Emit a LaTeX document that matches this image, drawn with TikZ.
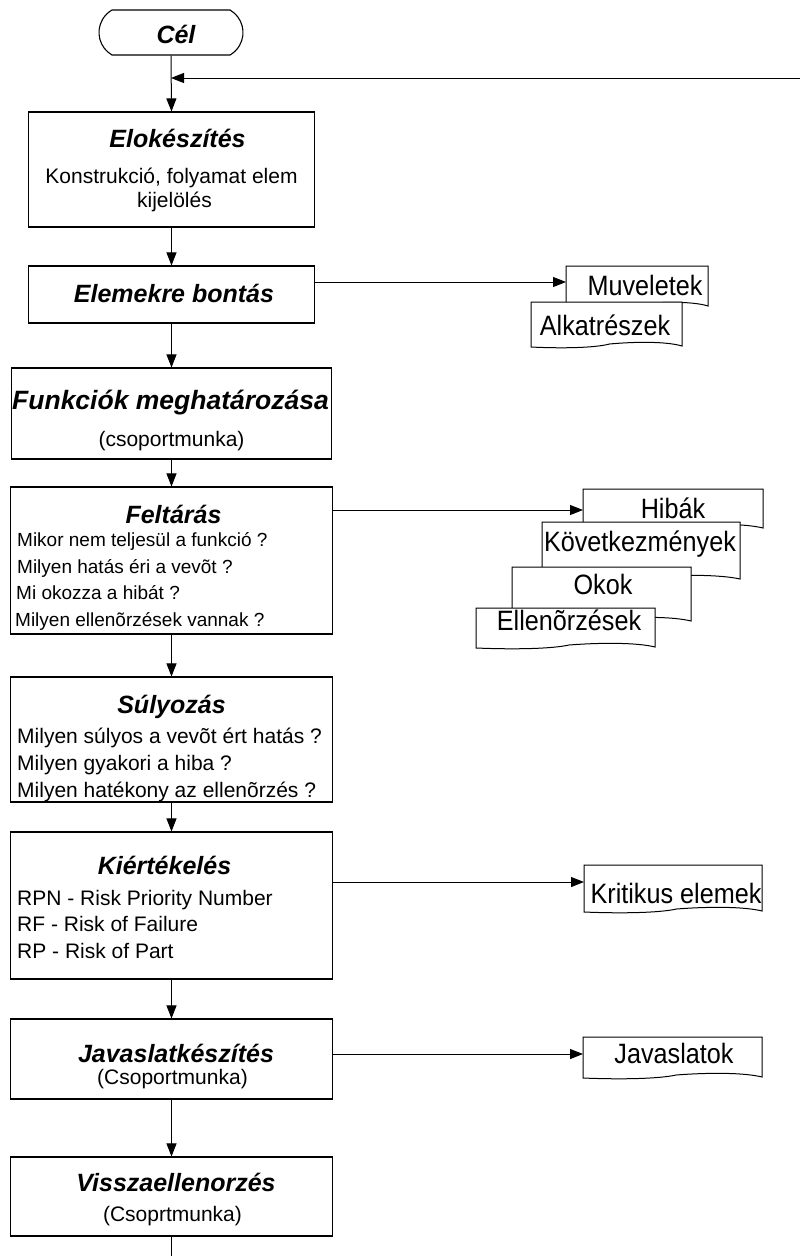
\documentclass[tikz,border=0pt]{standalone}
\usepackage{fontspec}
\setmainfont{Liberation Sans}
\newfontfamily\docfont[FakeStretch=0.9]{Liberation Sans}
\usetikzlibrary{arrows.meta,shapes.misc}
\newcommand\docshape[4]{%
  \filldraw[docline] (#1,#2) -- (#3,#2) -- (#3,{#4-1})
    .. controls ({#3-0.1*(#3-#1)},{#4-5.5}) and ({#3-0.3*(#3-#1)},{#4-5.5}) .. ({#1+0.52*(#3-#1)},{#4-3})
    .. controls ({#1+0.42*(#3-#1)},{#4+1}) and ({#1+0.2*(#3-#1)},{#4+1.5}) .. (#1,#4) -- cycle;}
\begin{document}
\begin{tikzpicture}[x=1pt,y=-1pt,
  box/.style={draw,line width=1.1pt,inner sep=0pt,fill=white},
  docline/.style={draw=black,fill=white,line width=1pt},
  arr/.style={line width=1pt,-{Triangle[length=13pt,width=10pt]}},
  ln/.style={line width=1pt},
  ttl/.style={font=\fontsize{25}{30}\selectfont\bfseries\itshape,inner sep=0pt,text height=17.9pt,text depth=0pt},
  bigttl/.style={font=\fontsize{26.5}{31}\selectfont\bfseries\itshape,inner sep=0pt,text height=19pt,text depth=0pt},
  bd/.style={font=\fontsize{21}{25}\selectfont,inner sep=0pt,text height=15pt,text depth=0pt},
  sm/.style={font=\fontsize{19}{23}\selectfont,inner sep=0pt,text height=13.6pt,text depth=0pt},
  dt/.style={font=\docfont\fontsize{28}{33}\selectfont,inner sep=0pt,text height=20pt,text depth=0pt}]
\useasboundingbox[fill=white] (0,0) rectangle (807,1256);

% main boxes
\node[draw,line width=1.1pt,shape=rounded rectangle,rounded rectangle arc length=120,
      minimum width=144pt,minimum height=45pt,inner sep=0pt] (cel) at (171,32.5) {};
\node[box,minimum width=286pt,minimum height=115pt] (prep) at (171.5,169.5) {};
\node[box,minimum width=286pt,minimum height=57pt] (elem) at (171.5,294.5) {};
\node[box,minimum width=320pt,minimum height=91pt] (func) at (171.5,413.5) {};
\node[box,minimum width=322pt,minimum height=147pt] (felt) at (171.5,560.5) {};
\node[box,minimum width=322pt,minimum height=125pt] (suly) at (171.5,739.5) {};
\node[box,minimum width=322pt,minimum height=147pt] (kiert) at (171.5,905.5) {};
\node[box,minimum width=322pt,minimum height=80pt] (javas) at (171.5,1059) {};
\node[box,minimum width=322pt,minimum height=79pt] (vissza) at (171.5,1196.5) {};

% texts in main boxes
\node[ttl] (celT) at (176,35) {Cél};
\node[ttl] (prepT) at (177.5,138.5) {Elokészítés};
\node[bd] (prepL1) at (171.5,175.5) {Konstrukció, folyamat elem};
\node[bd] (prepL2) at (174.5,200) {kijelölés};
\node[ttl] (elemT) at (174,293.5) {Elemekre bontás};
\node[bigttl] (funcT) at (170.5,399.5) {Funkciók meghatározása};
\node[bd] (funcL1) at (171.5,439) {(csoportmunka)};
\node[ttl] (feltT) at (173.5,514.5) {Feltárás};
\node[sm,anchor=west] (feltL1) at (17,540) {Mikor nem teljesül a funkció ?};
\node[sm,anchor=west] (feltL2) at (17,567) {Milyen hatás éri a vevõt ?};
\node[sm,anchor=west] (feltL3) at (16,593) {Mi okozza a hibát ?};
\node[sm,anchor=west] (feltL4) at (15,620) {Milyen ellenõrzések vannak ?};
\node[ttl] (sulyT) at (171.5,704.5) {Súlyozás};
\node[bd,anchor=west] (sulyL1) at (17,735.5) {Milyen súlyos a vevõt ért hatás ?};
\node[bd,anchor=west] (sulyL2) at (17,762.5) {Milyen gyakori a hiba ?};
\node[bd,anchor=west] (sulyL3) at (17,789.5) {Milyen hatékony az ellenõrzés ?};
\node[ttl] (kiertT) at (164.5,865.5) {Kiértékelés};
\node[bd,anchor=west] (kiertL1) at (17,897.5) {RPN - Risk Priority Number};
\node[bd,anchor=west] (kiertL2) at (17,923.5) {RF - Risk of Failure};
\node[bd,anchor=west] (kiertL3) at (17,950.5) {RP - Risk of Part};
\node[ttl] (javasT) at (176,1053.5) {Javaslatkészítés};
\node[bd] (javasL1) at (172.5,1077) {(Csoportmunka)};
\node[ttl] (visszaT) at (176,1183) {Visszaellenorzés};
\node[bd] (visszaL1) at (172.5,1214) {(Csoprtmunka)};

% vertical flow
\coordinate (fbR) at (800,78);
\coordinate (bottomEnd) at (171.5,1256);
\draw[arr] (cel.south) -- (prep.north);
\draw[arr] (fbR) -- (cel.south |- fbR);
\draw[arr] (prep.south) -- (elem.north);
\draw[arr] (elem.south) -- (func.north);
\draw[arr] (func.south) -- (felt.north);
\draw[arr] (felt.south) -- (suly.north);
\draw[arr] (suly.south) -- (kiert.north);
\draw[arr] (kiert.south) -- (javas.north);
\draw[arr] (javas.south) -- (vissza.north);
\draw[ln] (vissza.south) -- (bottomEnd);

% documents
\docshape{566}{266}{708}{307}
\node[dt] (muv) at (645,285) {Muveletek};
\docshape{531}{302}{682}{347}
\node[dt] (alk) at (605,325) {Alkatrészek};

\docshape{583}{489}{763}{529}
\node[dt] (hib) at (673,508.5) {Hibák};
\docshape{542}{522}{740}{580}
\node[dt] (kov) at (640,541) {Következmények};
\docshape{512}{567}{691}{622}
\node[dt] (okok) at (603,584) {Okok};
\docshape{476}{608}{655}{648}
\node[dt] (ell) at (569,620.5) {Ellenõrzések};

\docshape{584}{865}{762}{912}
\node[dt] (krit) at (676,893) {Kritikus elemek};
\docshape{583}{1037}{762}{1078}
\node[dt] (jav) at (674,1053) {Javaslatok};

% side arrows
\coordinate (muvIn) at (566,282);
\coordinate (hibIn) at (583,510);
\coordinate (kritIn) at (584,882);
\coordinate (javIn) at (583,1054);
\draw[arr] (elem.east |- muvIn) -- (muvIn);
\draw[arr] (felt.east |- hibIn) -- (hibIn);
\draw[arr] (kiert.east |- kritIn) -- (kritIn);
\draw[arr] (javas.east |- javIn) -- (javIn);
\end{tikzpicture}
\end{document}
